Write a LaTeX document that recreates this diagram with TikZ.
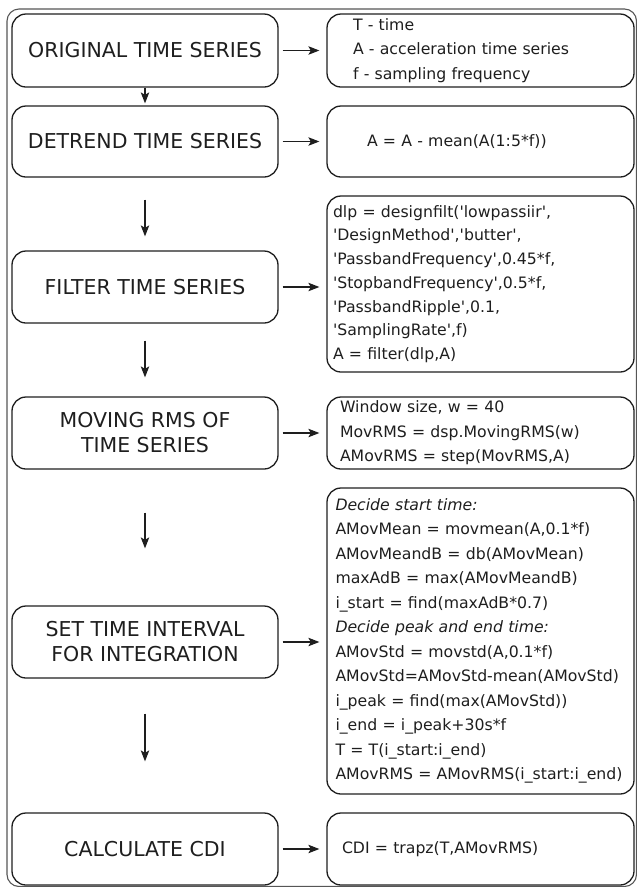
\documentclass[tikz,border=0pt]{standalone}
\usepackage{fontspec}
\setmainfont{DejaVu Sans}
\usetikzlibrary{arrows.meta}
\newcommand{\sq}{\textquotesingle}
\definecolor{ink}{HTML}{1E1E1E}
\tikzset{
  leftbox/.style={draw=ink, line width=1.3pt, rounded corners=14pt,
    minimum width=266pt, minimum height=#1, inner sep=0pt, align=center,
    text=ink, font=\fontsize{20.5}{25}\selectfont},
  rightbox/.style={draw=ink, line width=1.3pt, rounded corners=14pt,
    minimum width=307pt, minimum height=#1, inner sep=0pt, align=left,
    text=ink, font=\fontsize{15.7}{24.5}\selectfont},
  arr/.style={draw=ink, line width=1.1pt, -{Stealth[length=11pt,width=8.5pt,inset=2.5pt]}},
  frame/.style={draw=ink!75, line width=1.1pt, rounded corners=12pt}
}
\begin{document}
\begin{tikzpicture}[x=1pt,y=-1pt]
\useasboundingbox (0,0) rectangle (637,887);
\draw[frame] (7,9) rectangle (636.5,886.5);

% left column
\node[leftbox=73pt] (l1) at (145,50.5) {ORIGINAL TIME SERIES};
\node[leftbox=71pt] (l2) at (145,141.5) {DETREND TIME SERIES};
\node[leftbox=72pt] (l3) at (145,287) {FILTER TIME SERIES};
\node[leftbox=72pt] (l4) at (145,433) {MOVING RMS OF\\TIME SERIES};
\node[leftbox=72pt] (l5) at (145,642) {SET TIME INTERVAL\\FOR INTEGRATION};
\node[leftbox=72pt] (l6) at (145,849) {CALCULATE CDI};

% right column
\node[rightbox=73pt, text width=255pt] (r1) at (480.5,50.5)
  {T - time\\A - acceleration time series\\f - sampling frequency};
\node[rightbox=71pt, text width=227pt] (r2) at (480.5,141.5)
  {A = A - mean(A(1:5*f))};
\node[rightbox=176pt, text width=295pt, font=\fontsize{15.7}{23.7}\selectfont] (r3) at (480.5,284)
  {dlp = designfilt(\sq lowpassiir\sq,\\
   \sq DesignMethod\sq,\sq butter\sq,\\
   \sq PassbandFrequency\sq,0.45*f,\\
   \sq StopbandFrequency\sq,0.5*f,\\
   \sq PassbandRipple\sq,0.1,\\
   \sq SamplingRate\sq,f)\\
   A = filter(dlp,A)};
\node[rightbox=72pt, text width=281pt] (r4) at (480.5,433)
  {Window size, w = 40\\MovRMS = dsp.MovingRMS(w)\\AMovRMS = step(MovRMS,A)};
\node[rightbox=306pt, text width=290pt] (r5) at (480.5,641)
  {{\itshape Decide start time:}\\
   AMovMean = movmean(A,0.1*f)\\
   AMovMeandB = db(AMovMean)\\
   maxAdB = max(AMovMeandB)\\
   i\_start = find(maxAdB*0.7)\\
   {\itshape Decide peak and end time:}\\
   AMovStd = movstd(A,0.1*f)\\
   AMovStd=AMovStd-mean(AMovStd)\\
   i\_peak = find(max(AMovStd))\\
   i\_end = i\_peak+30s*f\\
   T = T(i\_start:i\_end)\\
   AMovRMS = AMovRMS(i\_start:i\_end)};
\node[rightbox=72pt, text width=277pt] (r6) at (480.5,849)
  {CDI = trapz(T,AMovRMS)};

% horizontal arrows
\foreach \i in {1,2,3,4,5,6}{
  \draw[arr, shorten <=4pt, shorten >=7pt] (l\i.east) -- (l\i.east -| r\i.west);
}

% vertical arrows
\draw[arr, shorten >=2pt] (l1.south) -- (l2.north);
\draw[arr, shorten <=22pt, shorten >=14pt] (l2.south) -- (l3.north);
\draw[arr, shorten <=17pt, shorten >=19pt] (l3.south) -- (l4.north);
\draw[arr, shorten <=43pt, shorten >=57pt] (l4.south) -- (l5.north);
\draw[arr, shorten <=35pt, shorten >=51pt] (l5.south) -- (l6.north);
\end{tikzpicture}
\end{document}
